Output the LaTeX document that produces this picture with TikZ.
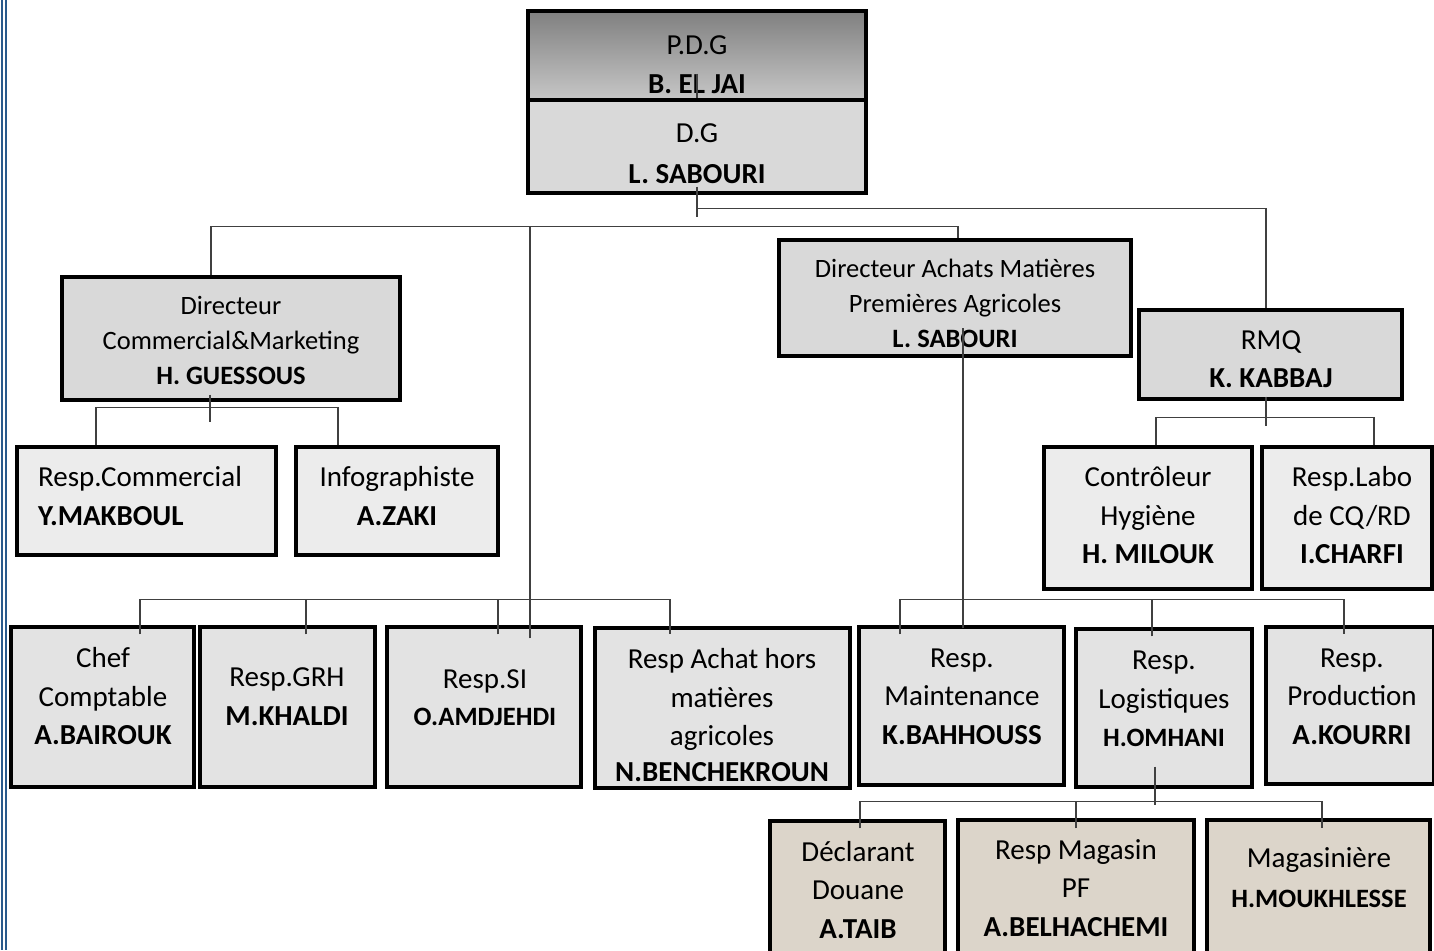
\documentclass[tikz,border=0pt]{standalone}
\usepackage{fontspec}
\setmainfont{Carlito}
\definecolor{boxgray}{HTML}{D9D9D9}
\definecolor{boxlight}{HTML}{ECECEC}
\definecolor{boxstone}{HTML}{E3E3E3}
\definecolor{boxsand}{HTML}{DCD5CA}
\definecolor{edgeblue}{HTML}{2A5A8C}
\newcommand{\fbig}{\fontsize{29}{38.5}\selectfont}
\newcommand{\fsmall}{\fontsize{26.5}{35}\selectfont}

\tikzset{
  post/.style={draw, line width=3.2pt, inner sep=0pt},
  link/.style={line width=1.4pt, draw=black!75},
  txt/.style={align=center, inner sep=0pt, font=\fbig},
}

\begin{document}
\begin{tikzpicture}[x=1pt,y=-1pt]
\useasboundingbox (0,0) rectangle (1434,950);

\draw[edgeblue, line width=2pt] (1.5,0) -- (1.5,950);
\draw[edgeblue, line width=2pt] (5.5,0) -- (5.5,950);

% direction
\node[post, top color=black!50, bottom color=black!22, minimum width=338pt, minimum height=89pt] (pdg) at (697,55.5) {};
\node[post, fill=boxgray, minimum width=338pt, minimum height=93pt] (dg) at (697,146.5) {};
\node[txt] (pdgt) at (697,64.5) {P.D.G\\[0.5pt]\textbf{B. EL JAI}};
\node[txt] (dgt) at (697,153.5) {D.G\\[2.5pt]\textbf{L. SABOURI}};

% directeurs
\node[post, fill=boxgray, minimum width=338pt, minimum height=123pt] (dcm) at (231,338.5) {};
\node[txt, font=\fsmall] (dcmt) at (231,340) {Directeur\\Commercial\&Marketing\\\textbf{H. GUESSOUS}};

\node[post, fill=boxgray, minimum width=352pt, minimum height=116pt] (dam) at (955,298) {};
\node[txt, font=\fsmall] (damt) at (955,303) {Directeur Achats Matières\\Premières Agricoles\\\textbf{L. SABOURI}};

\node[post, fill=boxgray, minimum width=263pt, minimum height=89pt] (rmq) at (1270.5,354.5) {};
\node[txt] (rmqt) at (1271,359) {RMQ\\\textbf{K. KABBAJ}};

% commercial
\node[post, fill=boxlight, minimum width=259pt, minimum height=108pt] (respcom) at (146.5,501) {};
\node[txt, align=left, anchor=west] (respcomt) at (38,496) {Resp.Commercial\\\textbf{Y.MAKBOUL}};
\node[post, fill=boxlight, minimum width=202pt, minimum height=108pt] (info) at (397,501) {};
\node[txt] (infot) at (397,496) {Infographiste\\\textbf{A.ZAKI}};

% qualite
\node[post, fill=boxlight, minimum width=208pt, minimum height=142pt] (ctrl) at (1148,518) {};
\node[txt] (ctrlt) at (1148,515.5) {Contrôleur\\Hygiène\\\textbf{H. MILOUK}};
\node[post, fill=boxlight, minimum width=170pt, minimum height=142pt] (labo) at (1347,518) {};
\node[txt] (labot) at (1352,515.5) {Resp.Labo\\de CQ/RD\\\textbf{I.CHARFI}};

% services
\node[post, fill=boxstone, minimum width=183pt, minimum height=160pt] (chef) at (102.5,707) {};
\node[txt] (cheft) at (103,696.5) {Chef\\Comptable\\\textbf{A.BAIROUK}};
\node[post, fill=boxstone, minimum width=175pt, minimum height=160pt] (grh) at (287.5,707) {};
\node[txt] (grht) at (287,696.5) {Resp.GRH\\\textbf{M.KHALDI}};
\node[post, fill=boxstone, minimum width=194pt, minimum height=160pt] (si) at (484,707) {};
\node[txt] (sit) at (485,697.5) {Resp.SI\\[-1.5pt]{\fsmall\textbf{O.AMDJEHDI}}};
\node[post, fill=boxstone, minimum width=255pt, minimum height=160pt] (achat) at (722.5,708) {};
\begin{scope}
\clip (597,630) rectangle (849,781);
\node[txt] (achatt) at (722,715) {Resp Achat hors\\matières\\agricoles\\[-3pt]\textbf{N.BENCHEKROUN}};
\end{scope}
\node[post, fill=boxstone, minimum width=205pt, minimum height=158pt] (maint) at (961.5,706) {};
\node[txt] (maintt) at (962,696.5) {Resp.\\Maintenance\\\textbf{K.BAHHOUSS}};
\node[post, fill=boxstone, minimum width=176pt, minimum height=158pt] (logi) at (1164,708) {};
\node[txt] (logit) at (1164,699) {Resp.\\Logistiques\\{\fsmall\textbf{H.OMHANI}}};
\node[post, fill=boxstone, minimum width=168pt, minimum height=157pt] (prod) at (1350,705.5) {};
\node[txt] (prodt) at (1352,696.5) {Resp.\\Production\\\textbf{A.KOURRI}};

% logistique
\node[post, fill=boxsand, minimum width=175pt, minimum height=139pt] (decl) at (857.5,890.5) {};
\node[txt] (declt) at (858,890) {Déclarant\\Douane\\\textbf{A.TAIB}};
\node[post, fill=boxsand, minimum width=236pt, minimum height=140pt] (mag) at (1076,890) {};
\node[txt] (magt) at (1076,888) {Resp Magasin\\PF\\\textbf{A.BELHACHEMI}};
\node[post, fill=boxsand, minimum width=223pt, minimum height=140pt] (magas) at (1318.5,890) {};
\node[txt] (magast) at (1319,877.5) {Magasinière\\[1pt]{\fsmall\textbf{H.MOUKHLESSE}}};

% liaisons
\draw[link] ([yshift=28pt]pdg.south) -- (dg.north);
\draw[link] ([yshift=8pt]dg.south) -- ++(0,30);
\draw[link] (dg.south) ++(0,14) -| ([xshift=-4.5pt]rmq.north);
\draw[link] ([xshift=-20pt]dcm.north) -- ++(0,-49) -| ([xshift=3pt]dam.north);
\draw[link] ([xshift=46pt,yshift=-13pt]si.north) -- ++(0,-412);

\draw[link] ([xshift=-21pt,yshift=7pt]dcm.south) -- ++(0,27);
\draw[link] ([xshift=-50.5pt]respcom.north) -- ++(0,-38) -| ([xshift=-59pt]info.north);

\draw[link] ([xshift=-4.5pt,yshift=4pt]rmq.south) -- ++(0,29);
\draw[link] ([xshift=8pt]ctrl.north) -- ++(0,-28) -| ([xshift=27pt]labo.north);

\draw[link] ([xshift=37.5pt,yshift=-9pt]chef.north) -- ++(0,-35) -| ([xshift=-52.5pt,yshift=-8pt]achat.north);
\draw[link] ([xshift=18.5pt,yshift=-9pt]grh.north) -- ++(0,-35);
\draw[link] ([xshift=14pt,yshift=-9pt]si.north) -- ++(0,-35);

\draw[link] ([xshift=1.5pt,yshift=-3pt]maint.north) -- ++(0,-300);
\draw[link] ([xshift=-61.5pt,yshift=-9pt]maint.north) -- ++(0,-35) -| ([xshift=-6pt,yshift=-9pt]prod.north);
\draw[link] ([xshift=-12pt,yshift=-9pt]logi.north) -- ++(0,-37);

\draw[link] ([xshift=-9pt,yshift=22pt]logi.south) -- ++(0,38);
\draw[link] ([xshift=2.5pt,yshift=-9pt]decl.north) -- ++(0,-27) -| ([xshift=3.5pt,yshift=-10pt]magas.north);
\draw[link] ([yshift=-10pt]mag.north) -- ++(0,-27);
\end{tikzpicture}
\end{document}
